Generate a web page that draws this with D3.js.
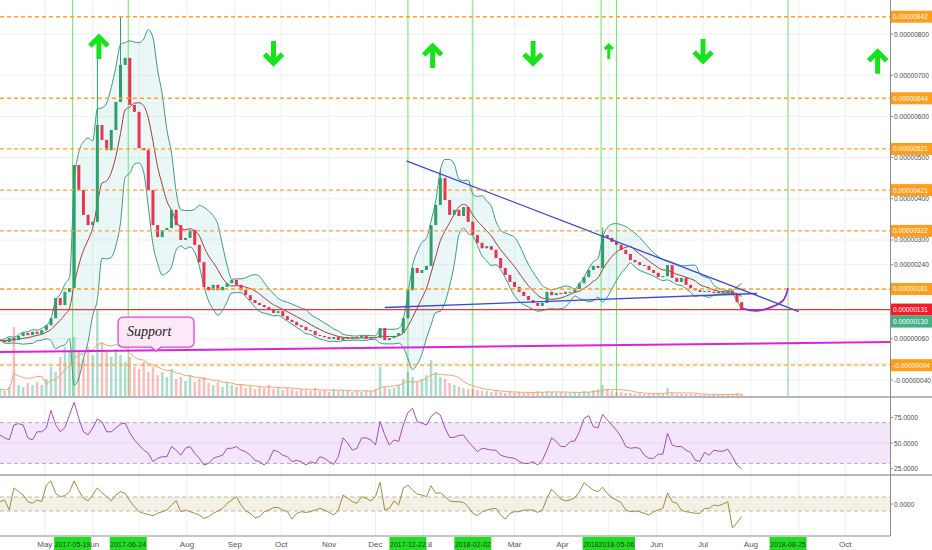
<!DOCTYPE html>
<html><head><meta charset="utf-8">
<script src="https://cdn.jsdelivr.net/npm/d3@7"></script>
<style>body{margin:0;background:#fff}svg{display:block;font-family:"Liberation Sans",Arial,sans-serif}</style>
</head><body><svg id="c" width="932" height="550"></svg>
<script>
// ---------- DATA (price values in units of 1e-8) ----------
const startDate = "2017-04-02";
const stepDays = 3;
const closes = [57,52,62,57,67,74,69,77,72,81,
93,110,159,142,174,183,482,421,361,336,
344,579,543,518,567,635,725,742,628,611,
523,518,421,336,307,324,329,373,336,300,
305,324,288,246,186,178,191,178,186,195,
203,191,178,166,154,147,142,137,130,123,
127,115,106,101,93,89,81,79,69,67,
64,60,64,57,64,60,64,62,67,60,
64,62,86,57,62,67,74,110,178,232,
220,227,237,336,385,450,397,361,373,358,
380,344,312,293,280,285,276,256,232,215,
198,186,174,164,154,147,140,147,174,166,
171,169,174,174,181,195,210,227,237,232,
312,305,295,288,276,266,251,246,239,237,
227,220,210,212,239,208,198,208,191,183,
178,174,176,174,171,174,171,176,169,149,
130];
const volumes = [8,6,10,70,12,10,14,12,15,12,
18,30,25,40,50,45,60,45,38,50,
42,87,55,45,40,48,42,35,40,30,
28,35,25,30,22,25,20,28,18,20,
16,22,15,18,20,14,12,15,10,14,
12,10,13,9,11,8,10,9,12,8,
10,7,9,8,6,8,7,6,9,6,
7,5,8,6,7,6,5,6,5,7,
6,8,30,10,8,9,12,18,25,20,
15,18,22,37,25,20,18,14,12,10,
9,8,8,7,6,6,5,6,5,4,
5,4,5,4,5,4,6,5,6,5,
4,5,4,4,5,5,6,5,7,8,
12,8,6,5,5,4,4,3,4,3,
3,4,3,3,9,4,3,3,3,3,
3,2,3,2,3,2,3,2,3,4,
3];
const rsiValues = [57.8,55,53,67.6,69,67.6,55,53,61,61,
64.7,82,68,61,65,77.5,90,74,61,58,
64.7,73.5,71,61,61,64.7,68.5,69.5,60,53,
48,43,40,31.7,35,36.6,36.6,46.5,43,38,
44.8,46.5,40,35,28.4,30,35,36.6,38,44.8,
44.8,46.5,43,41.5,38,33,31.7,28.4,33,43,
41.5,38,36.6,31.7,33,31.7,28.4,31.7,30,36.6,
35,31.7,29,36.6,55,50,43,44.8,55,55,
53,48,71,58,48,53,51.5,67.6,80,84,
71,69.5,67.6,76,80,77.5,64.7,55.5,55.5,57.5,
57.8,51.5,46.5,41.5,44.8,44,43,43,38,36.6,
35.6,35,32,30,30,31.7,28.4,33,43,55,
51.5,46.5,46.5,51.5,52,61,74,76.8,66,64.7,
78,72.5,67.6,62.5,56,46.5,44.8,45.5,44.8,38,
35,35,39,39,59.5,48,46.5,46.5,43,40.8,
33,32,40.8,38,43,42,42,44,36.6,28.4,
24.5];
const oscValues = [0.33,0.57,-0.86,2.3,1.76,1.29,0.33,0.1,0.57,0.33,
2.71,3.3,1.52,1.05,1.2,1.76,3.3,1.9,0.81,0.45,
1.29,2.3,1.6,1.05,0.45,1.29,1.76,1.52,0.45,-0.38,
-1.1,-1.33,-1.5,-1.67,-1.33,-1.1,-0.86,-0.14,0.45,-1.1,
-0.86,-1.1,-1.33,-1.57,-2.05,-1.81,-1.33,-1.0,-0.62,0.1,
0.57,1.05,-0.14,-1.0,-1.33,-1.95,-1.81,-1.1,-0.86,-0.5,
-0.5,-0.86,-1.1,-2.15,-1.33,-1.1,-1.2,-1.1,-0.86,-0.62,
-0.86,-1.2,-1.57,-0.86,1.29,0.81,0.33,0.1,1.05,0.81,
0.45,1.05,3.1,-0.86,-0.62,0.45,-0.14,2.24,2.71,2.0,
1.4,1.29,1.05,2.6,1.52,1.6,1.05,0.45,0.33,0.33,
0.2,-0.38,-1.33,-1.67,-1.1,-0.86,-0.7,-0.62,-1.57,-2.15,
-1.33,-1.1,-1.1,-0.86,-0.86,-0.86,-1.2,-0.86,0.81,2.1,
1.4,0.7,0.45,0.57,0.9,1.76,3.05,2.48,2.0,1.76,
2.4,1.52,0.9,0.57,0.2,-0.86,-1.1,-1.0,-1.1,-1.33,
-1.57,-1.1,-0.86,-0.62,1.6,0.33,0.1,-0.86,-1.1,-1.2,
-1.33,-1.33,-0.62,-0.62,-0.14,-0.26,0,0.33,-3.4,-2.7,
-1.8];
const wickIdx = [21, 26, 95, 130];
const wickHighs = [744, 842, 470, 330];

const priceTicks = [800,700,600,500,400,300,240,180,120,60,0,-40];
const rsiTicks = [75,50,25];
const oscTicks = [0];
const levelValues = [842,644,521,421,322,181,-4];
const redLevel = 131;
const currentPrice = 130;

const signalDates = ["2017-05-19","2017-06-24","2017-12-22","2018-02-02","2018-04-26","2018-05-06","2018-08-25"];
const arrowDates = ["2017-06-05","2017-09-26","2018-01-07","2018-03-13","2018-05-01","2018-07-01","2018-10-22"];
const arrowDirs = ["up","down","up","down","up","down","up"];
const arrowPrices = [766,756,744,756,756,761,730];
const arrowBig = [1,1,1,1,0,1,1];

const resistDates = ["2017-12-21","2018-09-01"];
const resistPrices = [492,126];
const riseDates = ["2017-12-07","2018-08-05"];
const risePrices = [136,170];
const supportDates = ["2017-04-02","2018-10-30"];
const supportPrices = [28,52];
const arcDates = ["2018-07-26","2018-08-05","2018-08-15","2018-08-22","2018-08-25"];
const arcPrices = [134,128,138,154,183];
const supportNoteDate = "2017-07-12";
const supportNotePrice = 30;
const supportNoteText = "Support";

// ---------- SETUP ----------
const parse = d3.utcParse("%Y-%m-%d");
const t0 = parse(startDate);
const dates = closes.map((_, i) => d3.utcDay.offset(t0, i * stepDays));
const opens = closes.map((c, i) => i === 0 ? c : closes[i - 1]);
const highs = closes.map((c, i) => { const k = wickIdx.indexOf(i); return Math.max(c, opens[i], k >= 0 ? wickHighs[k] : -1e9); });
const lows = closes.map((c, i) => Math.min(c, opens[i]));

const svg = d3.select("#c");
const PR = 890;
const x = d3.scaleUtc().domain([Date.UTC(2017,3,2), Date.UTC(2018,9,30)]).range([0, PR]);
const y = d3.scaleLinear().domain([-40, 800]).range([380, 34]);
const yV = d3.scaleLinear().domain([0, 100]).range([397, 297]);
const yR = d3.scaleLinear().domain([0, 100]).range([494, 392]);
const yO = d3.scaleLinear().domain([-1, 1]).range([511, 497]);
const fmtP = v => (v * 1e-8).toFixed(8);

const defs = svg.append("defs");
defs.append("clipPath").attr("id","cm").append("rect").attr("x",0).attr("y",0).attr("width",PR).attr("height",396);
defs.append("clipPath").attr("id","cr").append("rect").attr("x",0).attr("y",398).attr("width",PR).attr("height",76);
defs.append("clipPath").attr("id","co").append("rect").attr("x",0).attr("y",476).attr("width",PR).attr("height",59);

// grid
const months = x.ticks(d3.utcMonth.every(1));
svg.append("g").selectAll("line").data(months).join("line")
  .attr("x1", d => x(d)).attr("x2", d => x(d)).attr("y1", 0).attr("y2", 536)
  .attr("stroke", "#edf0f3").attr("stroke-width", 1);
svg.append("g").selectAll("line").data(priceTicks).join("line")
  .attr("x1", 0).attr("x2", PR).attr("y1", d => y(d)).attr("y2", d => y(d))
  .attr("stroke", "#edf0f3").attr("stroke-width", 1);

const main = svg.append("g").attr("clip-path", "url(#cm)");

// signal vertical lines
main.append("g").selectAll("line").data(signalDates).join("line")
  .attr("x1", d => x(parse(d))).attr("x2", d => x(parse(d))).attr("y1", 0).attr("y2", 397)
  .attr("stroke", "#7ee27e").attr("stroke-width", 1.1);

// volume
main.append("g").selectAll("rect").data(volumes).join("rect")
  .attr("x", (d, i) => x(dates[i]) - 1.25).attr("width", 2.5)
  .attr("y", d => yV(d)).attr("height", d => yV(0) - yV(d))
  .attr("fill", (d, i) => closes[i] >= opens[i] ? "rgba(38,166,120,0.38)" : "rgba(239,83,80,0.38)");
const vma = volumes.map((v, i) => d3.mean(volumes.slice(Math.max(0, i - 6), i + 1)));
main.append("path").datum(vma)
  .attr("d", d3.line().x((d, i) => x(dates[i])).y(d => yV(d)))
  .attr("fill", "none").attr("stroke", "#f5a66a").attr("stroke-width", 1);

// Bollinger
const bb = closes.map((c, i) => {
  const w = closes.slice(Math.max(0, i - 6), i + 1);
  const m = d3.mean(w); const sd = Math.sqrt(d3.mean(w.map(v => (v - m) * (v - m))));
  return { m, u: m + 2 * sd, l: m - 2 * sd };
});
main.append("path").datum(bb)
  .attr("d", d3.area().x((d, i) => x(dates[i])).y0(d => y(d.l)).y1(d => y(d.u)).curve(d3.curveMonotoneX))
  .attr("fill", "rgba(100,190,190,0.13)");
["u", "l"].forEach(k => main.append("path").datum(bb)
  .attr("d", d3.line().x((d, i) => x(dates[i])).y(d => y(d[k])).curve(d3.curveMonotoneX))
  .attr("fill", "none").attr("stroke", "#3f9688").attr("stroke-width", 1));
main.append("path").datum(bb)
  .attr("d", d3.line().x((d, i) => x(dates[i])).y(d => y(d.m)).curve(d3.curveMonotoneX))
  .attr("fill", "none").attr("stroke", "#a0403c").attr("stroke-width", 1);

// candles
const cg = main.append("g");
cg.selectAll("line").data(closes).join("line")
  .attr("x1", (d, i) => x(dates[i])).attr("x2", (d, i) => x(dates[i]))
  .attr("y1", (d, i) => y(highs[i])).attr("y2", (d, i) => y(lows[i]))
  .attr("stroke", (d, i) => d >= opens[i] ? "#2e9e6b" : (wickIdx.includes(i) ? "#f08a98" : "#e8344e")).attr("stroke-width", 1);
cg.selectAll("rect").data(closes).join("rect")
  .attr("x", (d, i) => x(dates[i]) - 1.5).attr("width", 3)
  .attr("y", (d, i) => y(Math.max(d, opens[i])))
  .attr("height", (d, i) => Math.max(1, Math.abs(y(d) - y(opens[i]))))
  .attr("fill", (d, i) => d >= opens[i] ? "#2e9e6b" : "#e8344e");

// level lines
main.append("g").selectAll("line").data(levelValues).join("line")
  .attr("x1", 0).attr("x2", PR).attr("y1", d => y(d)).attr("y2", d => y(d))
  .attr("stroke", "#ffa030").attr("stroke-width", 1.4).attr("stroke-dasharray", "4,3");
main.append("line").attr("x1", 0).attr("x2", PR).attr("y1", y(redLevel)).attr("y2", y(redLevel))
  .attr("stroke", "#e53935").attr("stroke-width", 1.3);

// trend lines
const seg = (ds, ps, color, w) => main.append("line")
  .attr("x1", x(parse(ds[0]))).attr("y1", y(ps[0])).attr("x2", x(parse(ds[1]))).attr("y2", y(ps[1]))
  .attr("stroke", color).attr("stroke-width", w);
seg(resistDates, resistPrices, "#4049d6", 1.3);
seg(riseDates, risePrices, "#4049d6", 1.3);
seg(supportDates, supportPrices, "#dd22dd", 2);
main.append("path").datum(arcDates.map((d, i) => [x(parse(d)), y(arcPrices[i])]))
  .attr("d", d3.line().curve(d3.curveCatmullRom)).attr("fill", "none")
  .attr("stroke", "#9b2bc8").attr("stroke-width", 1.8);

// support note
const nx = x(parse(supportNoteDate)), ny = y(supportNotePrice);
main.append("path")
  .attr("d", `M${nx-33},${ny-34} h66 a5,5 0 0 1 5,5 v20 a5,5 0 0 1 -5,5 h-28 l-5,4 l-5,-4 h-28 a5,5 0 0 1 -5,-5 v-20 a5,5 0 0 1 5,-5 z`)
  .attr("fill", "rgba(252,230,245,0.9)").attr("stroke", "#e040e0").attr("stroke-width", 1.3);
main.append("text").attr("x", nx - 29).attr("y", ny - 15)
  .attr("font-family", "'Liberation Serif','DejaVu Serif',serif").attr("font-style", "italic")
  .attr("font-size", 14).attr("fill", "#222").text(supportNoteText);

// arrows
arrowDates.forEach((d, i) => {
  const cx = x(parse(d)), cy = y(arrowPrices[i]);
  const big = arrowBig[i];
  const h = big ? 22 : 14, w = big ? 18 : 8, sw = big ? 5 : 3;
  const s = arrowDirs[i] === "up" ? -1 : 1;
  const tip = cy + s * h / 2, tail = cy - s * h / 2;
  main.append("path")
    .attr("d", `M${cx},${tail} L${cx},${tip} M${cx - w / 2},${tip - s * w / 2} L${cx},${tip} L${cx + w / 2},${tip - s * w / 2}`)
    .attr("fill", "none").attr("stroke", "#16e31c").attr("stroke-width", sw).attr("stroke-linejoin", "miter");
});

// ---------- RSI ----------
const rsiG = svg.append("g").attr("clip-path", "url(#cr)");
rsiG.append("rect").attr("x", 0).attr("width", PR).attr("y", yR(70)).attr("height", yR(30) - yR(70)).attr("fill", "#f3e6fa");
[70, 30].forEach(v => rsiG.append("line").attr("x1", 0).attr("x2", PR).attr("y1", yR(v)).attr("y2", yR(v))
  .attr("stroke", "#b7a9bd").attr("stroke-dasharray", "4,3").attr("stroke-width", 1));
rsiG.append("line").attr("x1", 0).attr("x2", PR).attr("y1", yR(50)).attr("y2", yR(50)).attr("stroke", "#e4d6ea");
rsiG.append("path").datum(rsiValues)
  .attr("d", d3.line().x((d, i) => x(dates[i])).y(d => yR(d)))
  .attr("fill", "none").attr("stroke", "#a24cc2").attr("stroke-width", 1);

// ---------- Oscillator ----------
const oG = svg.append("g").attr("clip-path", "url(#co)");
oG.append("rect").attr("x", 0).attr("width", PR).attr("y", yO(1)).attr("height", yO(-1) - yO(1)).attr("fill", "#f3f1e5");
[1, -1].forEach(v => oG.append("line").attr("x1", 0).attr("x2", PR).attr("y1", yO(v)).attr("y2", yO(v))
  .attr("stroke", "#bdb8a8").attr("stroke-dasharray", "4,3").attr("stroke-width", 1));
oG.append("path").datum(oscValues)
  .attr("d", d3.line().x((d, i) => x(dates[i])).y(d => yO(d)))
  .attr("fill", "none").attr("stroke", "#a08d3c").attr("stroke-width", 1);

// ---------- separators & axes ----------
svg.append("line").attr("x1", 0).attr("x2", 932).attr("y1", 397).attr("y2", 397).attr("stroke", "#b4b7bd").attr("stroke-width", 2);
svg.append("line").attr("x1", 0).attr("x2", 932).attr("y1", 475).attr("y2", 475).attr("stroke", "#b4b7bd").attr("stroke-width", 2);
svg.append("line").attr("x1", 0).attr("x2", PR).attr("y1", 536).attr("y2", 536).attr("stroke", "#8c8c8c").attr("stroke-width", 1);
svg.append("line").attr("x1", PR + 0.5).attr("x2", PR + 0.5).attr("y1", 0).attr("y2", 536).attr("stroke", "#8c8c8c").attr("stroke-width", 1);

const FS = 6.6;
const boxYs = levelValues.map(v => y(v)).concat([y(redLevel), y(redLevel) + 12]);
const axisLabel = (yy, txt) => {
  svg.append("line").attr("x1", PR).attr("x2", PR + 3).attr("y1", yy).attr("y2", yy).attr("stroke", "#8c8c8c");
  // labels that sit fully under a price box are hidden (as in the reference)
  if (boxYs.some(by => Math.abs(by - yy) < 6)) return;
  svg.append("text").attr("x", PR + 4).attr("y", yy + 2.5).attr("font-size", FS).attr("fill", "#4a4a4a").text(txt);
};
priceTicks.forEach(t => axisLabel(y(t), fmtP(t)));
rsiTicks.forEach(t => axisLabel(yR(t), t.toFixed(4)));
oscTicks.forEach(t => axisLabel(yO(t), t.toFixed(4)));

const box = (yy, txt, fill) => {
  svg.append("rect").attr("x", PR + 1).attr("y", yy - 6).attr("width", 41).attr("height", 12).attr("fill", fill);
  svg.append("text").attr("x", PR + 3).attr("y", yy + 2.5).attr("font-size", FS).attr("fill", "#fff").text(txt);
};
levelValues.forEach(v => box(y(v), fmtP(v), "#ff9d1c"));
box(y(redLevel), fmtP(redLevel), "#f01c2c");
box(y(redLevel) + 12, fmtP(currentPrice), "#45b085");

// date axis: month labels (those fully covered by a signal-date box are not drawn)
const sigX = signalDates.map(d => x(parse(d)));
const shownMonths = months.filter(m => !sigX.some(sx => Math.abs(sx - x(m)) < 12));
svg.append("g").selectAll("text").data(shownMonths).join("text")
  .attr("x", d => x(d)).attr("y", 547).attr("text-anchor", "middle")
  .attr("font-size", 8).attr("fill", "#555")
  .text(d => d.getUTCMonth() === 0 ? d.getUTCFullYear() : d3.utcFormat("%b")(d));
signalDates.forEach(d => {
  const cx = x(parse(d));
  svg.append("rect").attr("x", cx - 18.5).attr("y", 537).attr("width", 37).attr("height", 13).attr("fill", "#1fe01f");
  svg.append("text").attr("x", cx).attr("y", 546.5).attr("text-anchor", "middle").attr("font-size", 7)
    .attr("fill", "#333").text(d);
});
</script></body></html>
